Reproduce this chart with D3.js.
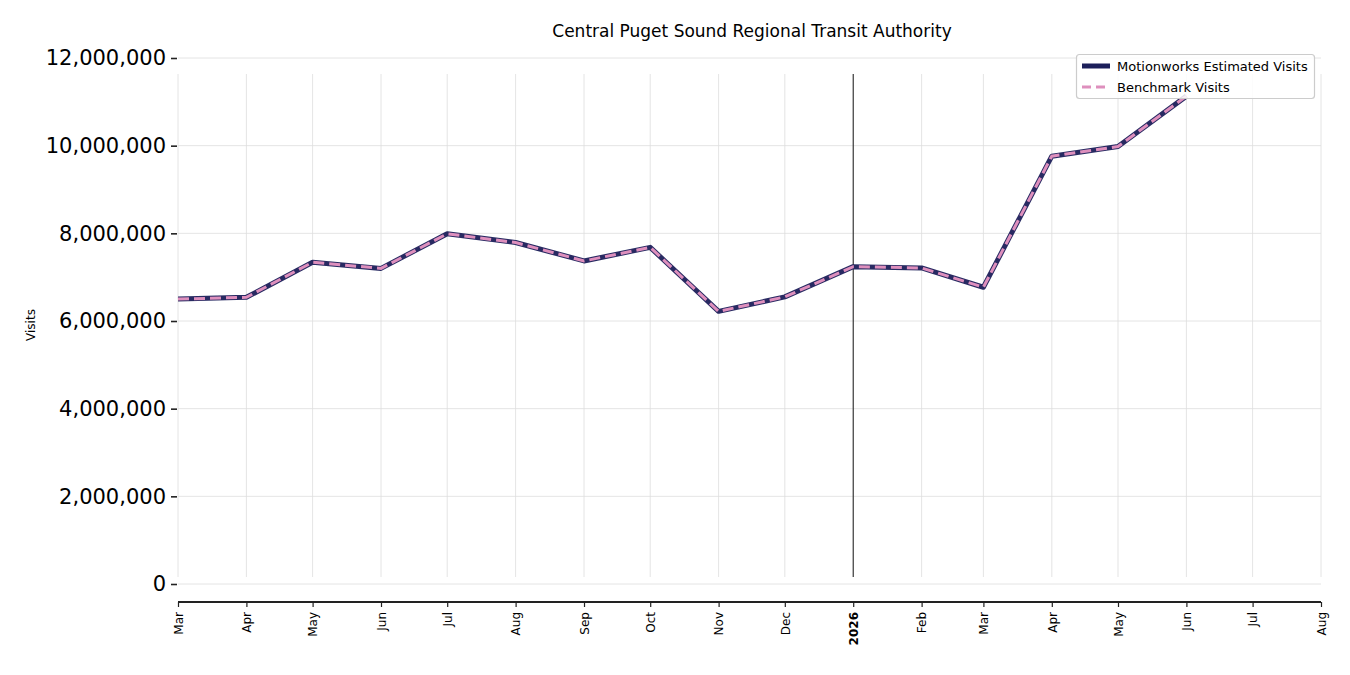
<!DOCTYPE html>
<html>
<head>
<meta charset="utf-8">
<script src="https://cdn.jsdelivr.net/npm/d3@7"></script>
<style>
  html, body { margin: 0; padding: 0; background: #fff; }
  svg { display: block; font-family: "DejaVu Sans", sans-serif; }
</style>
</head>
<body>
<svg id="chart" width="1350" height="675"></svg>
<script>
// ---- data ----
const months = ["2025-03","2025-04","2025-05","2025-06","2025-07","2025-08","2025-09","2025-10","2025-11","2025-12","2026-01","2026-02","2026-03","2026-04","2026-05","2026-06"];
const motionworksVisits = [6500000, 6540000, 7340000, 7200000, 7990000, 7790000, 7370000, 7680000, 6220000, 6550000, 7240000, 7210000, 6770000, 9760000, 9980000, 11130000];
const benchmarkVisits   = [6500000, 6540000, 7340000, 7200000, 7990000, 7790000, 7370000, 7680000, 6220000, 6550000, 7240000, 7210000, 6770000, 9760000, 9980000, 11130000];
const yTicks = [0, 2000000, 4000000, 6000000, 8000000, 10000000, 12000000];
const xTickMonths = ["2025-03","2025-04","2025-05","2025-06","2025-07","2025-08","2025-09","2025-10","2025-11","2025-12","2026-01","2026-02","2026-03","2026-04","2026-05","2026-06","2026-07","2026-08"];
const seriesNames = ["Motionworks Estimated Visits", "Benchmark Visits"];
const title = "Central Puget Sound Regional Transit Authority";
const yLabel = "Visits";

const parse = d3.timeParse("%Y-%m");
const svg = d3.select("#chart");

const x = d3.scaleTime().domain([parse("2025-03"), parse("2026-08")]).range([178, 1321]);
const y = d3.scaleLinear().domain([0, 12000000]).range([584, 58]);

const gridTop = 74, gridBottom = 577, spineY = 602;

// horizontal gridlines
svg.append("g").selectAll("line").data(yTicks).join("line")
  .attr("x1", 178).attr("x2", 1321)
  .attr("y1", d => y(d)).attr("y2", d => y(d))
  .attr("stroke", "#dddddd").attr("stroke-width", 0.8);

// vertical gridlines
const xTickDates = xTickMonths.map(parse);
svg.append("g").selectAll("line").data(xTickDates).join("line")
  .attr("x1", d => x(d)).attr("x2", d => x(d))
  .attr("y1", gridTop).attr("y2", gridBottom)
  .attr("stroke", "#dddddd").attr("stroke-width", 0.8);

// year line
svg.append("line")
  .attr("x1", x(parse("2026-01"))).attr("x2", x(parse("2026-01")))
  .attr("y1", gridTop).attr("y2", gridBottom)
  .attr("stroke", "#000").attr("stroke-width", 0.9);

// y axis (ticks + labels, no spine)
const yAxis = d3.axisLeft(y).tickValues(yTicks).tickSize(6).tickPadding(6)
  .tickFormat(d3.format(","));
const gy = svg.append("g").attr("transform", "translate(178,0)").call(yAxis);
gy.select(".domain").remove();
gy.selectAll(".tick line").attr("stroke", "#222").attr("stroke-width", 1.6).attr("x1", -7).attr("x2", -1);
gy.selectAll(".tick text").attr("font-size", 21).attr("fill", "#000")
  .attr("font-family", "DejaVu Sans, sans-serif");

// x axis
const fmtMonth = d3.timeFormat("%b");
const xAxis = d3.axisBottom(x).tickValues(xTickDates).tickSize(5)
  .tickFormat(d => d.getMonth() === 0 ? d3.timeFormat("%Y")(d) : fmtMonth(d));
const gx = svg.append("g").attr("transform", `translate(0,${spineY})`).call(xAxis);
gx.select(".domain").attr("stroke", "#222").attr("stroke-width", 2)
  .attr("d", `M178,0H1321`);
gx.selectAll(".tick line").attr("stroke", "#222").attr("stroke-width", 1.2);
gx.selectAll(".tick text")
  .attr("font-size", 12).attr("fill", "#000")
  .attr("font-family", "DejaVu Sans, sans-serif")
  .attr("transform", "rotate(-90)")
  .attr("text-anchor", "end")
  .attr("dy", "0.35em").attr("x", -10).attr("y", 0)
  .attr("font-weight", d => d.getMonth() === 0 ? "bold" : "normal");

// lines
const line = (vals) => d3.line()
  .x((d, i) => x(parse(months[i])))
  .y(d => y(d))(vals);

svg.append("path").attr("d", line(motionworksVisits))
  .attr("fill", "none").attr("stroke", "#1c1f5a").attr("stroke-width", 5)
  .attr("stroke-linejoin", "round").attr("opacity", 0.95);
svg.append("path").attr("d", line(benchmarkVisits))
  .attr("fill", "none").attr("stroke", "#de8fbd").attr("stroke-width", 3)
  .attr("stroke-dasharray", "11,5");

// title
svg.append("text").attr("x", 752).attr("y", 37).attr("text-anchor", "middle")
  .attr("font-size", 17).attr("fill", "#000").text(title);

// y label
svg.append("text").attr("transform", "translate(35,325) rotate(-90)")
  .attr("text-anchor", "middle").attr("font-size", 12).attr("fill", "#000").text(yLabel);

// legend
const lg = svg.append("g");
lg.append("rect").attr("x", 1076.5).attr("y", 54.5).attr("width", 238).attr("height", 44)
  .attr("rx", 3).attr("fill", "#fff").attr("fill-opacity", 0.85)
  .attr("stroke", "#cccccc").attr("stroke-width", 1.2);
lg.append("line").attr("x1", 1082).attr("x2", 1110).attr("y1", 66).attr("y2", 66)
  .attr("stroke", "#1c1f5a").attr("stroke-width", 5);
lg.append("line").attr("x1", 1082).attr("x2", 1110).attr("y1", 87).attr("y2", 87)
  .attr("stroke", "#de8fbd").attr("stroke-width", 3).attr("stroke-dasharray", "9,5");
lg.selectAll("text.lt").data(seriesNames).join("text")
  .attr("class", "lt")
  .attr("x", 1117).attr("y", (d, i) => 70.5 + i * 21)
  .attr("font-size", 13).attr("fill", "#000").text(d => d);
</script>
</body>
</html>
